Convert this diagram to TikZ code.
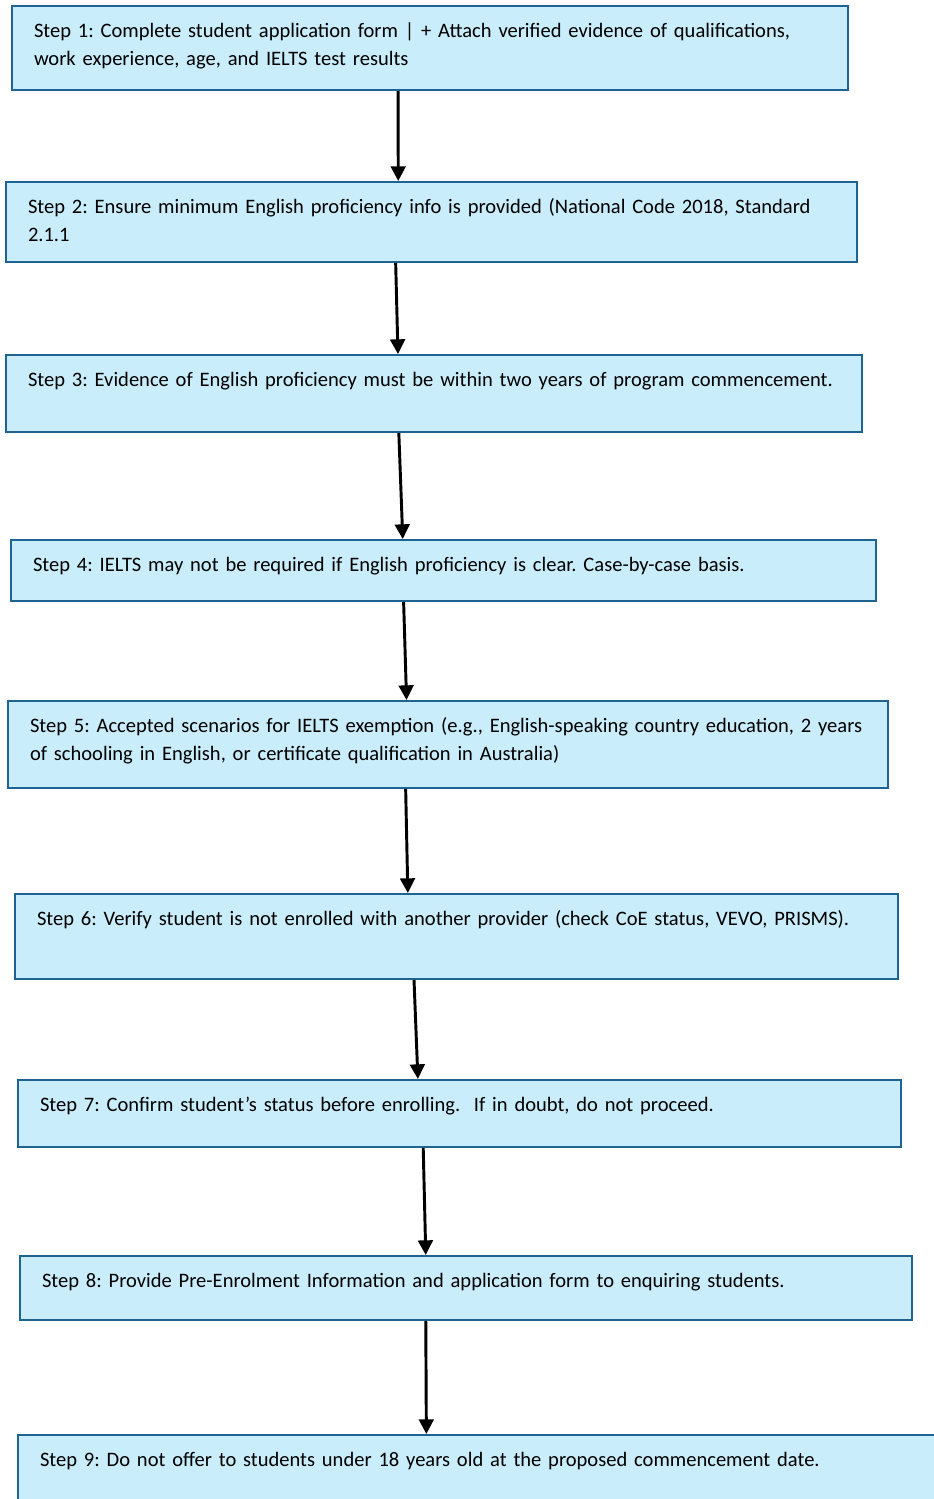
\documentclass[tikz,border=0pt]{standalone}
\usepackage{fontspec}
\setmainfont{Carlito}
\usetikzlibrary{arrows.meta, calc}

\definecolor{stepfill}{HTML}{C9EDFB}
\definecolor{stepline}{HTML}{1F6391}

\begin{document}
\frenchspacing
\begin{tikzpicture}[
        x=0.75pt, y=-0.75pt,
        every node/.style={font=\fontsize{15.4pt}{21pt}\selectfont},
        stepbox/.style 2 args={rectangle, draw=stepline, fill=stepfill, line width=1.5pt, anchor=north west, inner xsep=16.5pt, inner ysep=0pt, align=left, text width=#1, text height=23.6pt, text depth=#2, execute at begin node={\hyphenpenalty=10000}},
        arrow/.style={-{Triangle[width=11pt,length=11pt]}, line width=2.2pt}
    ]
        \useasboundingbox (0,0) rectangle (934,1499);

        % Steps
        \node[stepbox={594pt}{39.4pt}] (s1) at (11,5) {Step 1: Complete student application form | + Attach verified evidence of qualifications,\\ work experience, age, and IELTS test results};
        \node[stepbox={605.25pt}{36.4pt}] (s2) at (5,181) {Step 2: Ensure minimum English proficiency info is provided (National Code 2018, Standard\\ 2.1.1};
        \node[stepbox={609pt}{34.15pt}] (s3) at (5,354) {Step 3: Evidence of English proficiency must be within two years of program commencement.};
        \node[stepbox={615.75pt}{22.15pt}] (s4) at (10,539) {Step 4: IELTS may not be required if English proficiency is clear. Case-by-case basis.};
        \node[stepbox={627pt}{41.65pt}] (s5) at (7,700) {Step 5: Accepted scenarios for IELTS exemption (e.g., English-speaking country education, 2 years\\ of schooling in English, or certificate qualification in Australia)};
        \node[stepbox={629.25pt}{40.15pt}] (s6) at (14,893) {Step 6: Verify student is not enrolled with another provider (check CoE status, VEVO, PRISMS).};
        \node[stepbox={629.25pt}{26.65pt}] (s7) at (17,1079) {Step 7: Confirm student’s status before enrolling.\ \ If in doubt, do not proceed.};
        \node[stepbox={636pt}{24.4pt}] (s8) at (19,1255) {Step 8: Provide Pre-Enrolment Information and application form to enquiring students.};
        \node[stepbox={657pt}{27.4pt}] (s9) at (17,1434) {Step 9: Do not offer to students under 18 years old at the proposed commencement date.};

        % Arrows
        \draw[arrow] ($(s1.south west)!0.462!(s1.south east)$) -- ($(s2.north west)!0.461!(s2.north east)$);
        \draw[arrow] ($(s2.south west)!0.458!(s2.south east)$) -- ($(s3.north west)!0.458!(s3.north east)$);
        \draw[arrow] ($(s3.south west)!0.459!(s3.south east)$) -- ($(s4.north west)!0.453!(s4.north east)$);
        \draw[arrow] ($(s4.south west)!0.454!(s4.south east)$) -- ($(s5.north west)!0.453!(s5.north east)$);
        \draw[arrow] ($(s5.south west)!0.452!(s5.south east)$) -- ($(s6.north west)!0.445!(s6.north east)$);
        \draw[arrow] ($(s6.south west)!0.452!(s6.south east)$) -- ($(s7.north west)!0.453!(s7.north east)$);
        \draw[arrow] ($(s7.south west)!0.459!(s7.south east)$) -- ($(s8.north west)!0.455!(s8.north east)$);
        \draw[arrow] ($(s8.south west)!0.455!(s8.south east)$) -- ($(s9.north west)!0.444!(s9.north east)$);

    \end{tikzpicture}
\end{document}
